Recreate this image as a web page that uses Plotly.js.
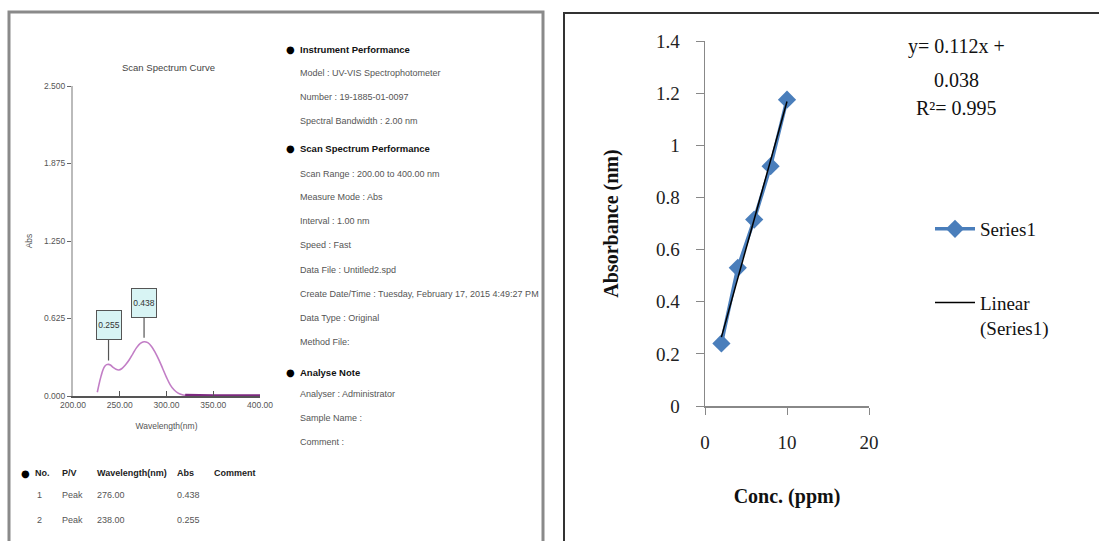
<!DOCTYPE html>
<html>
<head>
<meta charset="utf-8">
<script src="https://cdn.plot.ly/plotly-3.0.1.min.js"></script>
<style>html,body{margin:0;padding:0;background:#fff;}#chart{width:1099px;height:541px;}</style>
</head>
<body>
<div id="chart"></div>
<script>
// ---------- Data: UV-VIS scan spectrum ----------
const wavelength = [226,228,230,232,234,236,238,240,243,246,249,252,256,260,264,268,272,276,280,284,288,292,296,300,304,308,312,316,320,330,340,350,360,370,380,390,400];
const absSpectrum = [0.03,0.10,0.16,0.21,0.24,0.253,0.255,0.25,0.23,0.215,0.21,0.22,0.25,0.29,0.34,0.39,0.425,0.438,0.43,0.40,0.35,0.29,0.22,0.15,0.09,0.05,0.025,0.012,0.006,0.003,0.002,0.002,0.002,0.002,0.002,0.002,0.002];
const peakWavelengths = [276, 238];
const peakAbs = [0.438, 0.255];
const peakLabels = ["0.438", "0.255"];
const specYTickVals = [0, 0.625, 1.25, 1.875, 2.5];
const specYTickText = ["0.000", "0.625", "1.250", "1.875", "2.500"];
const specXTickVals = [200, 250, 300, 350, 400];
const specXTickText = ["200.00", "250.00", "300.00", "350.00", "400.00"];

// ---------- Data: instrument report text ----------
const infoLines = [
  ["h", "Instrument Performance"],
  ["t", "Model : UV-VIS Spectrophotometer"],
  ["t", "Number : 19-1885-01-0097"],
  ["t", "Spectral Bandwidth : 2.00 nm"],
  ["h", "Scan Spectrum Performance"],
  ["t", "Scan Range : 200.00 to 400.00 nm"],
  ["t", "Measure Mode : Abs"],
  ["t", "Interval : 1.00 nm"],
  ["t", "Speed : Fast"],
  ["t", "Data File : Untitled2.spd"],
  ["t", "Create Date/Time : Tuesday, February 17, 2015 4:49:27 PM"],
  ["t", "Data Type : Original"],
  ["t", "Method File:"],
  ["h", "Analyse Note"],
  ["t", "Analyser : Administrator"],
  ["t", "Sample Name :"],
  ["t", "Comment :"]
];
const tableHeader = ["No.", "P/V", "Wavelength(nm)", "Abs", "Comment"];
const tableNo = ["1", "2"];
const tablePV = ["Peak", "Peak"];
const tableWl = ["276.00", "238.00"];
const tableAbs = ["0.438", "0.255"];

// ---------- Data: calibration curve ----------
const conc = [2, 4, 6, 8, 10];
const absorbance = [0.24, 0.53, 0.715, 0.92, 1.175];
const eqLines = ["y= 0.112x +", "0.038", "R\u00b2= 0.995"];

// least-squares trendline from the data
const n = conc.length;
const mx = conc.reduce((a,b)=>a+b,0)/n, my = absorbance.reduce((a,b)=>a+b,0)/n;
let sxy = 0, sxx = 0;
for (let i=0;i<n;i++){ sxy += (conc[i]-mx)*(absorbance[i]-my); sxx += (conc[i]-mx)**2; }
const slope = sxy/sxx, intercept = my - slope*mx;
const trendX = [Math.min(...conc), Math.max(...conc)];
const trendY = trendX.map(x => slope*x + intercept);

// ---------- Layout helpers ----------
const W = 1099, H = 541;
const px = x => x / W;
const py = y => 1 - y / H;
const NARROW = "Liberation Sans Narrow, Liberation Sans, Arial, sans-serif";
const SERIF = "Liberation Serif, Times New Roman, serif";

// baseline part of spectrum (drawn darker, as on the instrument plot)
const baseX = [], baseY = [];
wavelength.forEach((w,i)=>{ if (w >= 320) { baseX.push(w); baseY.push(absSpectrum[i]); } });

const traces = [
  { x: wavelength, y: absSpectrum, xaxis: "x", yaxis: "y", mode: "lines",
    line: { color: "#c27ec6", width: 1.6, shape: "spline" }, showlegend: false, hoverinfo: "skip" },
  { x: baseX, y: baseY, xaxis: "x", yaxis: "y", mode: "lines",
    line: { color: "#7d2a80", width: 3 }, showlegend: false, hoverinfo: "skip" },
  { x: conc, y: absorbance, xaxis: "x2", yaxis: "y2", mode: "lines+markers", name: "Series1",
    legendgroup: "a",
    line: { color: "#4a7ebb", width: 3.5 }, marker: { symbol: "diamond", size: 14, color: "#4a7ebb" } },
  { x: trendX, y: trendY, xaxis: "x2", yaxis: "y2", mode: "lines", name: "Linear<br>(Series1)",
    legendgroup: "b",
    line: { color: "#000", width: 1.5 } }
];

const annotations = [];
const bullet = (x, y) => annotations.push({ xref: "paper", yref: "paper", x: px(x), y: py(y),
  xanchor: "center", yanchor: "middle", showarrow: false, text: "\u25cf",
  font: { family: "DejaVu Sans, sans-serif", size: 10, color: "#000" } });
// spectrum title
annotations.push({ xref: "paper", yref: "paper", x: px(168), y: py(67), xanchor: "center", yanchor: "middle",
  text: "Scan Spectrum Curve", showarrow: false, font: { family: NARROW, size: 9.5, color: "#444" } });
// peak labels
peakWavelengths.forEach((w,i)=>{
  annotations.push({ xref: "x", yref: "y", x: w, y: peakAbs[i], text: peakLabels[i],
    showarrow: true, arrowhead: 0, arrowwidth: 1.2, arrowcolor: "#555", ax: 0, ay: -39, standoff: 4,
    bgcolor: "#d8f4f4", bordercolor: "#555", borderwidth: 1, width: 22, height: 26,
    font: { family: NARROW, size: 8.5, color: "#333" } });
});
// info block
const infoY = [49, 73, 97, 121, 149, 174, 197, 221, 245, 270, 294, 318, 342, 372, 394, 418, 442];
infoLines.forEach((ln,i)=>{
  const head = ln[0] === "h";
  if (head) bullet(291, infoY[i]);
  annotations.push({ xref: "paper", yref: "paper", x: px(298), y: py(infoY[i]),
    xanchor: "left", yanchor: "middle", showarrow: false,
    text: head ? "<b>" + ln[1] + "</b>" : ln[1],
    font: { family: NARROW, size: head ? 9.5 : 9, color: head ? "#111" : "#555" } });
});
// peak table
const colX = [33, 60, 95, 175, 212];
bullet(25, 473);
tableHeader.forEach((h,i)=>{
  annotations.push({ xref: "paper", yref: "paper", x: px(colX[i]), y: py(473), xanchor: "left", yanchor: "middle", showarrow: false,
    text: "<b>" + h + "</b>", font: { family: NARROW, size: 9, color: "#222" } });
});
const rowY = [495, 520];
tableNo.forEach((v,r)=>{
  const cells = [tableNo[r], tablePV[r], tableWl[r], tableAbs[r]];
  const cx = [35, 60, 95, 175];
  cells.forEach((c,j)=>{
    annotations.push({ xref: "paper", yref: "paper", x: px(cx[j]), y: py(rowY[r]), xanchor: "left", yanchor: "middle", showarrow: false,
      text: c, font: { family: NARROW, size: 9, color: "#555" } });
  });
});
// equation
const eqY = [47, 80, 108];
eqLines.forEach((t,i)=>{
  annotations.push({ xref: "paper", yref: "paper", x: px(956), y: py(eqY[i]), xanchor: "center", yanchor: "middle",
    showarrow: false, text: t, font: { family: SERIF, size: 20, color: "#111" } });
});

const layout = {
  width: W, height: H, autosize: false,
  margin: { l: 0, r: 0, t: 0, b: 0, pad: 0 },
  paper_bgcolor: "#fff", plot_bgcolor: "rgba(0,0,0,0)",
  showlegend: true,
  legend: { x: px(930), y: py(210), xanchor: "left", yanchor: "top", bgcolor: "rgba(0,0,0,0)",
    font: { family: SERIF, size: 19, color: "#111" }, tracegroupgap: 46, valign: "top", itemwidth: 40 },
  xaxis: { domain: [px(73), px(260)], range: [200, 400], anchor: "y",
    showgrid: false, zeroline: false, showline: true, linecolor: "#555", linewidth: 2,
    ticks: "inside", ticklen: 5, tickcolor: "#555", tickvals: specXTickVals, ticktext: specXTickText,
    tickfont: { family: NARROW, size: 8.5, color: "#555" }, automargin: false, fixedrange: true,
    title: { text: "Wavelength(nm)", standoff: 14, font: { family: NARROW, size: 8.5, color: "#555" } } },
  yaxis: { domain: [py(396), py(86)], range: [0, 2.5], anchor: "x",
    showgrid: false, zeroline: false, showline: true, linecolor: "#bbb", linewidth: 2,
    ticks: "outside", ticklen: 4, tickcolor: "#666", tickvals: specYTickVals, ticktext: specYTickText,
    tickfont: { family: NARROW, size: 8.5, color: "#555" }, automargin: false, fixedrange: true,
    title: { text: "Abs", standoff: 10, font: { family: NARROW, size: 8.5, color: "#555" } } },
  xaxis2: { domain: [px(705), px(869)], range: [0, 20], anchor: "y2",
    showgrid: false, zeroline: false, showline: true, linecolor: "#888", linewidth: 1.5,
    ticks: "outside", ticklen: 7, tickcolor: "#888", dtick: 10, tick0: 0,
    tickfont: { family: SERIF, size: 19, color: "#222" }, ticklabelstandoff: 12,
    automargin: false, fixedrange: true,
    title: { text: "<b>Conc. (ppm)</b>", standoff: 36, font: { family: SERIF, size: 20, color: "#111" } } },
  yaxis2: { domain: [py(406), py(41)], range: [0, 1.4], anchor: "x2",
    showgrid: false, zeroline: false, showline: true, linecolor: "#888", linewidth: 1.5,
    ticks: "outside", ticklen: 8, tickcolor: "#888", dtick: 0.2, tick0: 0,
    tickfont: { family: SERIF, size: 19, color: "#222" }, ticklabelstandoff: 12,
    automargin: false, fixedrange: true,
    title: { text: "<b>Absorbance (nm)</b>", standoff: 32, font: { family: SERIF, size: 20, color: "#111" } } },
  shapes: [
    { type: "rect", xref: "paper", yref: "paper", x0: px(9), x1: px(543), y0: py(560), y1: py(12),
      line: { color: "#8a8a8a", width: 3 } },
    { type: "rect", xref: "paper", yref: "paper", x0: px(564), x1: px(1110), y0: py(560), y1: py(13),
      line: { color: "#333", width: 2 } }
  ],
  annotations: annotations
};

Plotly.newPlot("chart", traces, layout, { displayModeBar: false, staticPlot: true });
</script>
</body>
</html>
